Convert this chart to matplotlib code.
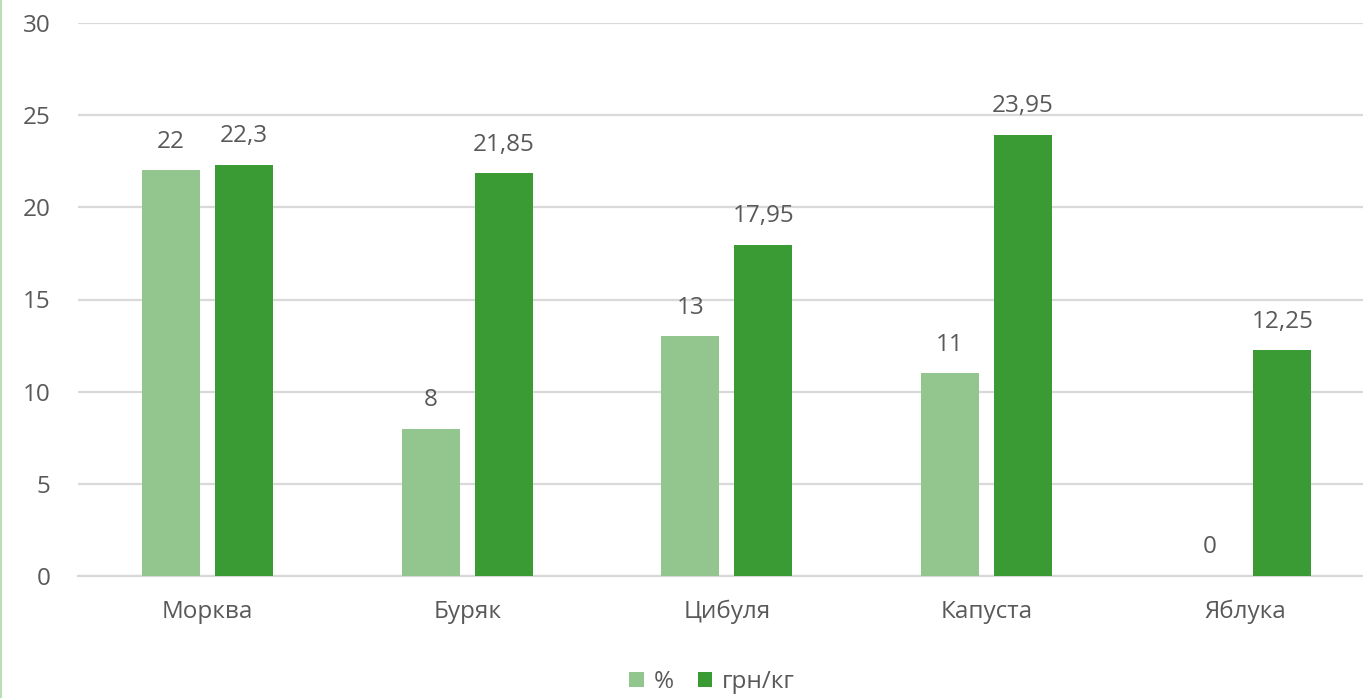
import matplotlib
matplotlib.use("Agg")
import matplotlib.pyplot as plt
import numpy as np
from matplotlib.lines import Line2D

categories = ["Морква", "Буряк", "Цибуля", "Капуста", "Яблука"]
percent = [22, 8, 13, 11, 0]
price = [22.3, 21.85, 17.95, 23.95, 12.25]
series_names = ["%", "грн/кг"]
yticks = [0, 5, 10, 15, 20, 25, 30]

LIGHT = "#93c68f"
DARK = "#3a9a33"
TEXT = "#595959"
GRID = "#d9d9d9"
FS = 17.5

plt.rcParams["font.family"] = ["Open Sans", "DejaVu Sans"]

fig = plt.figure(figsize=(13.63, 6.98), dpi=100)
# the chart runs slightly past the right edge of the picture
ax = fig.add_axes([78 / 1363, 1 - 576 / 698, 1297.5 / 1363, 553 / 698])

x = np.arange(len(categories))
width = 0.2235
offset = 0.1407
bars_light = ax.bar(x - offset, percent, width, color=LIGHT, label=series_names[0], zorder=3)
bars_dark = ax.bar(x + offset, price, width, color=DARK, label=series_names[1], zorder=3)


def fmt(v):
    s = f"{v:g}"
    return s.replace(".", ",")


for bars, vals in ((bars_light, percent), (bars_dark, price)):
    for b, v in zip(bars, vals):
        ax.annotate(fmt(v), (b.get_x() + b.get_width() / 2, v), xytext=(0, 12),
                    textcoords="offset points", ha="center", va="bottom",
                    fontsize=FS, color=TEXT)

ax.set_xlim(-0.5, len(categories) - 0.5)
ax.set_ylim(0, 30)
ax.set_yticks(yticks)
ax.set_yticklabels([str(t) for t in yticks], fontsize=FS, color=TEXT)
ax.set_xticks(x)
ax.set_xticklabels(categories, fontsize=FS, color=TEXT)
ax.tick_params(axis="both", length=0)
ax.tick_params(axis="y", pad=20)
ax.tick_params(axis="x", pad=17)
ax.yaxis.grid(True, color=GRID, linewidth=1.6, zorder=0)
for side in ("top", "right", "left"):
    ax.spines[side].set_visible(False)
ax.spines["bottom"].set_color(GRID)
ax.spines["bottom"].set_linewidth(1.6)

fig.legend(handles=[bars_light, bars_dark], labels=series_names, loc="center",
           bbox_to_anchor=(712 / 1363, 1 - 682 / 698), ncol=2, frameon=False,
           fontsize=FS, labelcolor=TEXT, handlelength=0.6, handleheight=0.6,
           handletextpad=0.4, columnspacing=1.0)

# thin green border on the left edge
fig.add_artist(Line2D([0.0008, 0.0008], [0, 1], color="#b8e0b5", linewidth=1.5,
                      transform=fig.transFigure))

fig.savefig("out.png", dpi=100, facecolor="white")
